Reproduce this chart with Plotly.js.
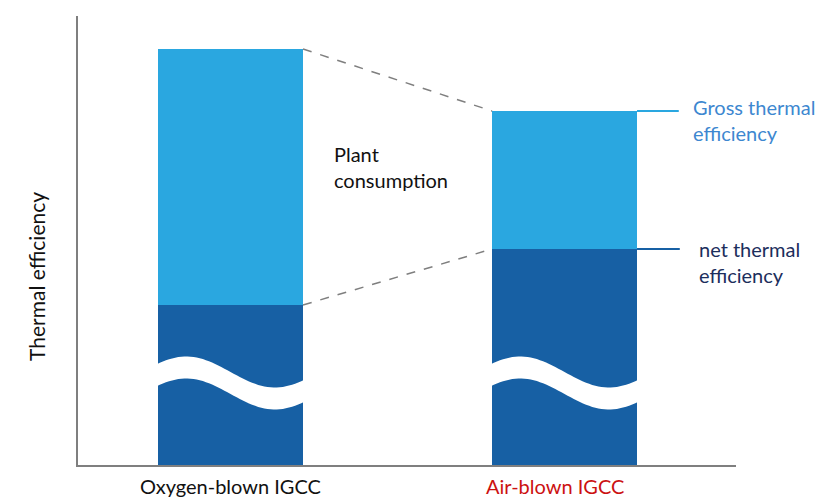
<!DOCTYPE html>
<html>
<head>
<meta charset="utf-8">
<script src="https://cdn.plot.ly/plotly-3.0.1.min.js"></script>
<style>html,body{margin:0;padding:0;background:#fff;}#chart{width:819px;height:500px;}</style>
</head>
<body>
<div id="chart"></div>
<script>
// Data (arbitrary units; axis has no ticks)
const categories = ["Oxygen-blown IGCC", "Air-blown IGCC"];
const netEfficiency = [160, 216];
const grossEfficiency = [416, 354];
const plantConsumption = grossEfficiency.map((g, i) => g - netEfficiency[i]);
const categoryLabels = ["Oxygen-blown IGCC", "Air-blown IGCC"];
const labelColors = ["#111111", "#CC1111"];
const breakLevel = [82, 82];

const FONT = "Lato, 'Open Sans', sans-serif";
const LIGHT = "#2AA7E0";
const DARK = "#1760A4";
const BAR_W = 0.434;
const xIdx = categories.map((c, i) => i);

const traces = [
  {type: "bar", x: xIdx, y: netEfficiency, width: BAR_W, marker: {color: DARK, line: {width: 0}}, hoverinfo: "skip", showlegend: false},
  {type: "bar", x: xIdx, y: plantConsumption, width: BAR_W, marker: {color: LIGHT, line: {width: 0}}, hoverinfo: "skip", showlegend: false}
];

const shapes = [];
// dashed connectors between bars
[grossEfficiency, netEfficiency].forEach(arr => {
  shapes.push({type: "line", xref: "x", yref: "y", x0: xIdx[0] + BAR_W / 2, y0: arr[0], x1: xIdx[1] - BAR_W / 2, y1: arr[1],
    line: {color: "#7F7F7F", width: 1.5, dash: "dash"}});
});
// leader lines to labels on the right bar
shapes.push({type: "line", xref: "x", yref: "y", x0: xIdx[1] + BAR_W / 2, y0: grossEfficiency[1], x1: xIdx[1] + BAR_W / 2 + 0.125, y1: grossEfficiency[1], line: {color: LIGHT, width: 2}});
shapes.push({type: "line", xref: "x", yref: "y", x0: xIdx[1] + BAR_W / 2, y0: netEfficiency[1], x1: xIdx[1] + BAR_W / 2 + 0.128, y1: netEfficiency[1], line: {color: DARK, width: 2}});

// axis-break wave (white band) across each bar
xIdx.forEach((xi, i) => {
  const x0 = xi - BAR_W / 2 - 0.004, x1 = xi + BAR_W / 2 + 0.004;
  const n = 48, amp = 15.5, thick = 22, base = breakLevel[i];
  const top = [], bot = [];
  for (let k = 0; k <= n; k++) {
    const t = k / n;
    const x = x0 + (x1 - x0) * t;
    const yc = base + amp * Math.cos(Math.PI * (t - 0.2) / 0.6);
    top.push([x, yc + thick / 2]);
    bot.push([x, yc - thick / 2]);
  }
  let p = "M" + top.map(q => q[0] + "," + q[1]).join(" L");
  p += " L" + bot.reverse().map(q => q[0] + "," + q[1]).join(" L") + " Z";
  shapes.push({type: "path", xref: "x", yref: "y", path: p, fillcolor: "#FFFFFF", line: {width: 0}, layer: "above"});
});

const annotations = [
  {xref: "paper", yref: "paper", x: -0.085, y: 0.42, text: "Thermal efficiency", textangle: -90, showarrow: false,
    font: {family: FONT, size: 21, color: "#111"}},
  {xref: "x", yref: "y", x: 0.303, y: 298, xanchor: "left", yanchor: "middle", align: "left", showarrow: false,
    text: "Plant<br>consumption", font: {family: FONT, size: 20, color: "#111"}},
  {xref: "x", yref: "y", x: 1.379, y: 345, xanchor: "left", yanchor: "middle", align: "left", showarrow: false,
    text: "Gross thermal<br>efficiency", font: {family: FONT, size: 20, color: "#3D87D0"}},
  {xref: "x", yref: "y", x: 1.396, y: 203, xanchor: "left", yanchor: "middle", align: "left", showarrow: false,
    text: "net thermal<br>efficiency", font: {family: FONT, size: 20, color: "#1C2E5C"}}
];
categoryLabels.forEach((lab, i) => {
  annotations.push({xref: "x", yref: "paper", x: xIdx[i] - (i === 1 ? 0.0285 : 0), y: -0.0468, yanchor: "middle", showarrow: false,
    borderpad: 0, text: lab, font: {family: FONT, size: 20, color: labelColors[i]}});
});

const layout = {
  width: 819, height: 500,
  margin: {l: 78, r: 83, t: 16, b: 35},
  paper_bgcolor: "#fff", plot_bgcolor: "#fff",
  barmode: "stack", bargap: 0,
  showlegend: false,
  xaxis: {range: [-0.4567, 1.5133], showgrid: false, zeroline: false, showticklabels: false, ticks: "",
    showline: true, linecolor: "#7F7F7F", linewidth: 2, fixedrange: true},
  yaxis: {range: [0, 449], showgrid: false, zeroline: false, showticklabels: false, ticks: "",
    showline: true, linecolor: "#7F7F7F", linewidth: 2, fixedrange: true},
  shapes: shapes,
  annotations: annotations
};

Plotly.newPlot("chart", traces, layout, {displayModeBar: false, staticPlot: true});
</script>
</body>
</html>
